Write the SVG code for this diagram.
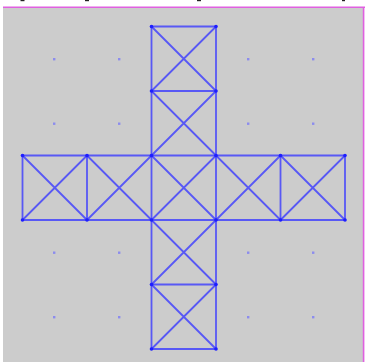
<svg xmlns="http://www.w3.org/2000/svg" width="365" height="362" viewBox="0 0 365 362">
<style>
.e{stroke:#3b3bff;stroke-opacity:0.8;stroke-width:1.8;fill:none}
.v{fill:#1e1eff}
.d{fill:#8c8cee}
</style>
<rect x="0" y="0" width="365" height="362" fill="#ffffff"/>
<rect x="3" y="7.5" width="360" height="355" fill="#cccccc"/>
<line x1="3" y1="7.2" x2="365" y2="7.2" stroke="#e060e0" stroke-width="1.6"/>
<line x1="363.6" y1="7" x2="363.6" y2="362" stroke="#e060e0" stroke-width="1.6"/>
<g fill="#222">
<rect x="20.5" y="0" width="4" height="1.2"/>
<rect x="85" y="0" width="4" height="1.2"/>
<rect x="197" y="0" width="4" height="1.2"/>
<rect x="342" y="0" width="3" height="1.2"/>
</g>
<g id="dots" class="d">
<rect x="53" y="58" width="2.4" height="2.4"/><rect x="118" y="58" width="2.4" height="2.4"/><rect x="247" y="58" width="2.4" height="2.4"/><rect x="312" y="58" width="2.4" height="2.4"/>
<rect x="53" y="122.5" width="2.4" height="2.4"/><rect x="118" y="122.5" width="2.4" height="2.4"/><rect x="247" y="122.5" width="2.4" height="2.4"/><rect x="312" y="122.5" width="2.4" height="2.4"/>
<rect x="53" y="251.5" width="2.4" height="2.4"/><rect x="118" y="251.5" width="2.4" height="2.4"/><rect x="247" y="251.5" width="2.4" height="2.4"/><rect x="312" y="251.5" width="2.4" height="2.4"/>
<rect x="53" y="316" width="2.4" height="2.4"/><rect x="118" y="316" width="2.4" height="2.4"/><rect x="247" y="316" width="2.4" height="2.4"/><rect x="312" y="316" width="2.4" height="2.4"/>
</g>
<g id="connectors" class="e">
<path d="M151.5 26.5H216V349H151.5Z"/>
<path d="M22.5 155.5H345V220H22.5Z"/>
<path d="M151.5 91H216M151.5 284.5H216M87 155.5V220M280.5 155.5V220"/>
<path d="M151.5 26.5L216 91M216 26.5L151.5 91"/>
<path d="M151.5 91L216 155.5M216 91L151.5 155.5"/>
<path d="M151.5 155.5L216 220M216 155.5L151.5 220"/>
<path d="M151.5 220L216 284.5M216 220L151.5 284.5"/>
<path d="M151.5 284.5L216 349M216 284.5L151.5 349"/>
<path d="M22.5 155.5L87 220M87 155.5L22.5 220"/>
<path d="M87 155.5L151.5 220M151.5 155.5L87 220"/>
<path d="M216 155.5L280.5 220M280.5 155.5L216 220"/>
<path d="M280.5 155.5L345 220M345 155.5L280.5 220"/>
</g>
<g class="v">
<g id="n1"><circle cx="151.5" cy="26.5" r="1.8"/></g>
<g id="n2"><circle cx="216" cy="26.5" r="1.8"/></g>
<g id="n3"><circle cx="151.5" cy="91" r="1.8"/></g>
<g id="n4"><circle cx="216" cy="91" r="1.8"/></g>
<g id="n5"><circle cx="22.5" cy="155.5" r="1.8"/></g>
<g id="n6"><circle cx="87" cy="155.5" r="1.8"/></g>
<g id="n7"><circle cx="151.5" cy="155.5" r="1.8"/></g>
<g id="n8"><circle cx="216" cy="155.5" r="1.8"/></g>
<g id="n9"><circle cx="280.5" cy="155.5" r="1.8"/></g>
<g id="n10"><circle cx="345" cy="155.5" r="1.8"/></g>
<g id="n11"><circle cx="22.5" cy="220" r="1.8"/></g>
<g id="n12"><circle cx="87" cy="220" r="1.8"/></g>
<g id="n13"><circle cx="151.5" cy="220" r="1.8"/></g>
<g id="n14"><circle cx="216" cy="220" r="1.8"/></g>
<g id="n15"><circle cx="280.5" cy="220" r="1.8"/></g>
<g id="n16"><circle cx="345" cy="220" r="1.8"/></g>
<g id="n17"><circle cx="151.5" cy="284.5" r="1.8"/></g>
<g id="n18"><circle cx="216" cy="284.5" r="1.8"/></g>
<g id="n19"><circle cx="151.5" cy="349" r="1.8"/></g>
<g id="n20"><circle cx="216" cy="349" r="1.8"/></g>
</g>
</svg>
